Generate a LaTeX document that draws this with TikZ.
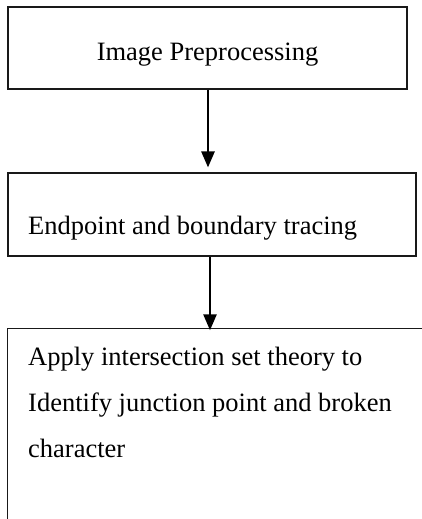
\documentclass[tikz,border=0pt]{standalone}
\usepackage{fontspec}
\setmainfont{Liberation Serif}
\usetikzlibrary{arrows.meta}
\begin{document}
\begin{tikzpicture}[x=1pt,y=-1pt,
  boxline/.style={draw=black!90,line width=1.1pt},
  stepbox/.style={boxline,rectangle,inner sep=0pt},
  txt/.style={inner sep=0pt,font=\fontsize{26.5}{46}\selectfont},
  arr/.style={line width=2.6pt,-{Triangle[length=16pt,width=13pt]}}]
\useasboundingbox (0,0) rectangle (422,519);
\clip (0,0) rectangle (422,519);
% boxes
\node[stepbox,minimum width=399pt,minimum height=82pt] (b1) at (207.5,48) {};
\node[stepbox,minimum width=408pt,minimum height=83pt] (b2) at (212,214.5) {};
\node[inner sep=0pt,minimum width=440pt,minimum height=220pt] (b3) at (228,439) {};
\draw[boxline] (b3.south west) -- (b3.north west) -- (b3.north east);
% texts
\node[txt,anchor=base] (t1) at (207.5,60) {Image Preprocessing};
\node[txt,anchor=base west] (t2) at (28,234) {Endpoint and boundary tracing};
\node[txt,anchor=base west] (t3a) at (28,365.5) {Apply intersection set theory to};
\node[txt,anchor=base west] (t3b) at (28,411.5) {Identify junction point and broken};
\node[txt,anchor=base west] (t3c) at (28,457) {character};
% arrows
\coordinate (a1) at (208,0);
\coordinate (a2) at (210,0);
\draw[arr] (b1.south -| a1) -- ([yshift=5pt]b2.north -| a1);
\draw[arr] (b2.south -| a2) -- ([yshift=-1.5pt]b3.north -| a2);
\end{tikzpicture}
\end{document}
